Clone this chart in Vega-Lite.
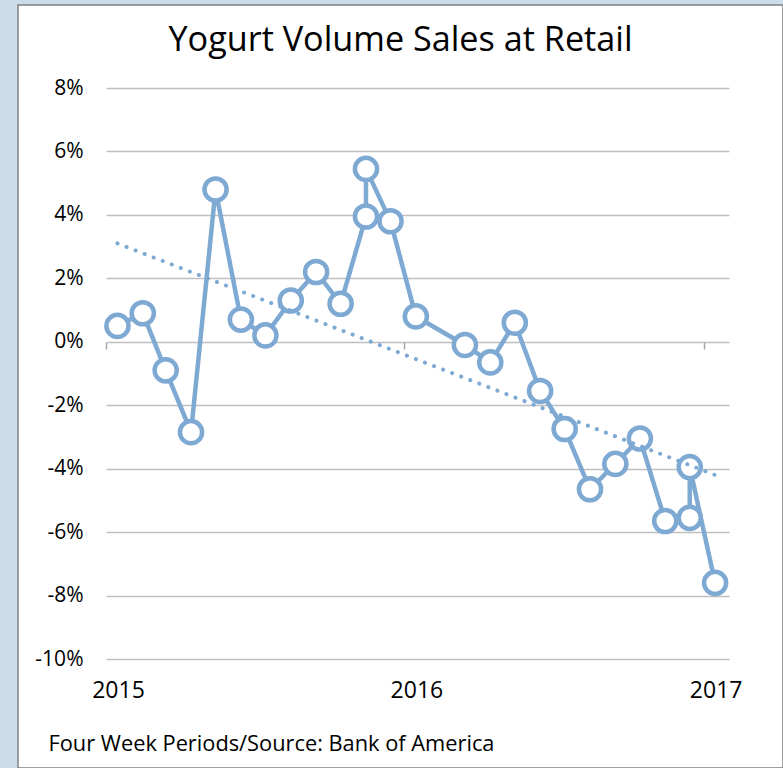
{
  "$schema": "https://vega.github.io/schema/vega-lite/v6.json",
  "width": 765,
  "height": 763,
  "autosize": {"type": "none"},
  "padding": {"left": 18, "top": 5, "right": 0, "bottom": 0},
  "background": "#CBDCEB",
  "view": {"fill": "white", "stroke": "#808080", "strokeWidth": 1.5},
  "title": {
    "text": "Yogurt Volume Sales at Retail",
    "font": "Open Sans",
    "fontSize": 34.2,
    "fontWeight": "normal",
    "color": "#000000",
    "anchor": "middle",
    "offset": -53
  },
  "datasets": {
    "periods": [
      {"i": 1, "d": "2015-01-15", "v": 0.5},
      {"i": 2, "d": "2015-02-15", "v": 0.9},
      {"i": 3, "d": "2015-03-15", "v": -0.9},
      {"i": 4, "d": "2015-04-15", "v": -2.85},
      {"i": 5, "d": "2015-05-15", "v": 4.8},
      {"i": 6, "d": "2015-06-15", "v": 0.7},
      {"i": 7, "d": "2015-07-15", "v": 0.2},
      {"i": 8, "d": "2015-08-15", "v": 1.3},
      {"i": 9, "d": "2015-09-15", "v": 2.2},
      {"i": 10, "d": "2015-10-15", "v": 1.2},
      {"i": 11, "d": "2015-11-15", "v": 3.95},
      {"i": 12, "d": "2015-11-15", "v": 5.45},
      {"i": 13, "d": "2015-12-15", "v": 3.8},
      {"i": 14, "d": "2016-01-15", "v": 0.8},
      {"i": 15, "d": "2016-03-15", "v": -0.1},
      {"i": 16, "d": "2016-04-15", "v": -0.65},
      {"i": 17, "d": "2016-05-15", "v": 0.6},
      {"i": 18, "d": "2016-06-15", "v": -1.55},
      {"i": 19, "d": "2016-07-15", "v": -2.75},
      {"i": 20, "d": "2016-08-15", "v": -4.65},
      {"i": 21, "d": "2016-09-15", "v": -3.85},
      {"i": 22, "d": "2016-10-15", "v": -3.05},
      {"i": 23, "d": "2016-11-15", "v": -5.65},
      {"i": 24, "d": "2016-12-15", "v": -5.55},
      {"i": 25, "d": "2016-12-15", "v": -3.95},
      {"i": 26, "d": "2017-01-15", "v": -7.6}
    ],
    "trend": [
      {"d": "2015-01-15", "t": 3.1},
      {"d": "2017-01-15", "t": -4.2}
    ]
  },
  "layer": [
    {
      "data": {"name": "periods"},
      "mark": {"type": "line", "color": "#7EA9D3", "strokeWidth": 4.5},
      "encoding": {
        "x": {
          "field": "d",
          "type": "temporal",
          "scale": {
            "type": "utc",
            "domain": [
              {"year": 2015, "month": 1, "date": 1, "utc": true},
              {"year": 2017, "month": 2, "date": 1, "utc": true}
            ],
            "range": [88, 711]
          },
          "axis": {
            "orient": "bottom",
            "values": [
              {"year": 2015, "month": 1, "date": 1, "utc": true},
              {"year": 2016, "month": 1, "date": 1, "utc": true},
              {"year": 2017, "month": 1, "date": 1, "utc": true}
            ],
            "format": "%Y",
            "labelOffset": 12,
            "domain": false,
            "ticks": false,
            "grid": false,
            "offset": -89,
            "labelPadding": 0,
            "labelFont": "Open Sans",
            "labelFontSize": 23,
            "labelColor": "#000000",
            "labelFlush": false,
            "labelOverlap": false,
            "title": "Four Week Periods/Source: Bank of America",
            "titleAnchor": "start",
            "titleAlign": "left",
            "titleX": 30,
            "titleY": 71,
            "titleBaseline": "alphabetic",
            "titleFont": "Open Sans",
            "titleFontSize": 21.8,
            "titleFontWeight": "normal",
            "titleColor": "#000000"
          }
        },
        "y": {
          "field": "v",
          "type": "quantitative",
          "scale": {"domain": [-10, 8], "range": [654, 83], "nice": false, "zero": false},
          "axis": {
            "values": [-10, -8, -6, -4, -2, 0, 2, 4, 6, 8],
            "labelExpr": "datum.value + '%'",
            "domain": false,
            "ticks": false,
            "grid": true,
            "gridColor": "#BFBFBF",
            "gridWidth": 1.5,
            "offset": -65,
            "labelPadding": 0,
            "labelFont": "Open Sans",
            "labelFontSize": 21,
            "labelColor": "#000000",
            "title": null
          }
        },
        "order": {"field": "i", "type": "quantitative"}
      }
    },
    {
      "data": {"name": "periods"},
      "mark": {"type": "point", "shape": "circle", "filled": true, "fill": "white", "stroke": "#7EA9D3", "strokeWidth": 4.5, "size": 490, "opacity": 1},
      "encoding": {
        "x": {"field": "d", "type": "temporal", "axis": null},
        "y": {"field": "v", "type": "quantitative"}
      }
    },
    {
      "data": {"name": "trend"},
      "mark": {"type": "line", "color": "#7EA9D3", "strokeWidth": 4, "strokeDash": [0.1, 9.6], "strokeCap": "round"},
      "encoding": {
        "x": {
          "field": "d",
          "type": "temporal",
          "axis": {
            "orient": "bottom",
            "values": [
              {"year": 2015, "month": 1, "date": 1, "utc": true},
              {"year": 2016, "month": 1, "date": 1, "utc": true},
              {"year": 2017, "month": 1, "date": 1, "utc": true}
            ],
            "labels": false,
            "domain": false,
            "ticks": true,
            "tickSize": 7,
            "tickColor": "#A6A6A6",
            "tickWidth": 1.5,
            "grid": false,
            "offset": -426,
            "title": null
          }
        },
        "y": {"field": "t", "type": "quantitative"}
      }
    }
  ],
  "resolve": {"axis": {"x": "independent"}}
}
